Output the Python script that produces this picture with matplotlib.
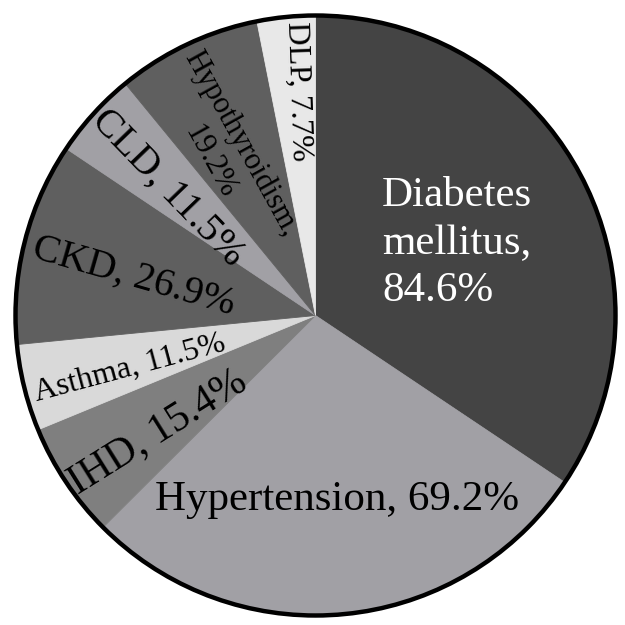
import matplotlib
matplotlib.use("Agg")
import matplotlib.pyplot as plt
import numpy as np

# ---- data ----
categories = ["Diabetes\nmellitus", "Hypertension", "IHD", "Asthma",
              "CKD", "CLD", "Hypothyroidism", "DLP"]
values = [84.6, 69.2, 15.4, 11.5, 26.9, 11.5, 19.2, 7.7]
colors = ["#444444", "#a1a0a5", "#7f7f7f", "#d9d9d9",
          "#5f5f5f", "#a1a0a5", "#5f5f5f", "#e8e8e8"]

# ---- label layout (radius fraction, angle offset, rotation, size, colour, separator) ----
lab_frac = [0.53, 0.62, 0.655, 0.645, 0.62, 0.65, 0.62, 0.75]
lab_dth = [-1.2, 1.2, 2.8, 2.0, 2.0, 1.4, 3.5, -1.3]
lab_rot = [0, 0, 32, 15, -16, -46, -61, -88]
lab_size = [31, 31, 30, 23, 29, 29, 22, 23]
lab_col = ["white", "black", "black", "black", "black", "black", "black", "black"]
lab_sep = ["\n", " ", " ", " ", " ", " ", "\n", " "]
lab_align = ["left", "center", "center", "center", "center", "center", "center", "center"]

plt.rcParams['font.family'] = ['Liberation Serif', 'DejaVu Serif']

fig = plt.figure(figsize=(6.25, 6.25), dpi=100)
ax = fig.add_axes([0, 0, 1, 1])

cx, cy, R = 315.5, 625 - 315.5, 300
wedges, _ = ax.pie(values, colors=colors, startangle=90, counterclock=False,
                   center=(cx, cy), radius=R)
for w, c in zip(wedges, colors):
    w.set_edgecolor(c)
    w.set_linewidth(0.6)
circle = plt.Circle((cx, cy), R, fill=False, edgecolor="black", linewidth=3.2)
ax.add_patch(circle)

for w, name, v, fr, dth, rot, fs, col, sep, al in zip(
        wedges, categories, values, lab_frac, lab_dth, lab_rot,
        lab_size, lab_col, lab_sep, lab_align):
    mid = np.deg2rad((w.theta1 + w.theta2) / 2 + dth)
    x = cx + fr * R * np.cos(mid)
    y = cy + fr * R * np.sin(mid)
    ax.text(x, y, f"{name},{sep}{v}%", rotation=rot, rotation_mode="anchor",
            ha="center", va="center", multialignment=al,
            fontsize=fs, color=col, linespacing=1.3)

ax.set_xlim(0, 625)
ax.set_ylim(0, 625)
ax.set_aspect("equal")
ax.axis("off")
fig.savefig("out.png", dpi=100, facecolor="white")
